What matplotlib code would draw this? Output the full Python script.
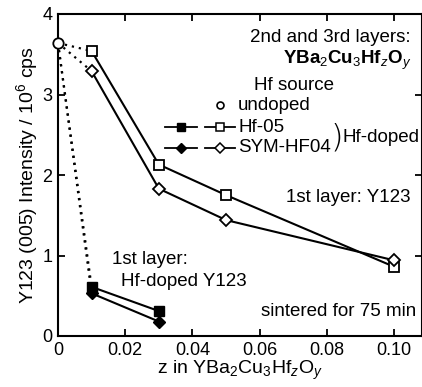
import matplotlib.pyplot as plt
from matplotlib.lines import Line2D

plt.rcParams["font.family"] = ["Liberation Sans", "DejaVu Sans"]
plt.rcParams["mathtext.fontset"] = "custom"
plt.rcParams["mathtext.rm"] = "Liberation Sans"
plt.rcParams["mathtext.it"] = "Liberation Sans:italic"
plt.rcParams["mathtext.bf"] = "Liberation Sans:bold"

# 2nd and 3rd layers (open markers)
z_upper = [0.01, 0.03, 0.05, 0.10]
hf05_upper = [3.54, 2.13, 1.75, 0.86]
sym_upper = [3.29, 1.83, 1.44, 0.94]

# 1st layer Hf-doped Y123 (filled markers)
z_first = [0.01, 0.03]
hf05_first = [0.61, 0.31]
sym_first = [0.53, 0.18]

# undoped reference
z_undoped = 0.0
undoped = 3.64

x_ticks = [0, 0.02, 0.04, 0.06, 0.08, 0.10]
x_labels = ["0", "0.02", "0.04", "0.06", "0.08", "0.10"]
y_ticks = [0, 1, 2, 3, 4]

fs = 13.5

fig = plt.figure(figsize=(4.22, 3.87), dpi=100)
ax = fig.add_axes([58 / 422, 1 - 336 / 387, 364 / 422, 322 / 387])

# dotted connections from the undoped point
for y0 in [hf05_upper[0], sym_upper[0], hf05_first[0], sym_first[0]]:
    ax.plot([z_undoped, z_upper[0]], [undoped, y0], color="black",
            linestyle=(0, (1, 2.2)), linewidth=1.6, zorder=2)

ms = 7.5
ax.plot(z_upper, hf05_upper, color="black", lw=1.5, marker="s", ms=ms,
        mfc="white", mec="black", mew=1.3, zorder=3)
ax.plot(z_upper, sym_upper, color="black", lw=1.5, marker="D", ms=ms - 1.5,
        mfc="white", mec="black", mew=1.3, zorder=3)
ax.plot(z_first, hf05_first, color="black", lw=1.5, marker="s", ms=ms,
        mfc="black", mec="black", zorder=3)
ax.plot(z_first, sym_first, color="black", lw=1.5, marker="D", ms=ms - 1.5,
        mfc="black", mec="black", zorder=3)
ax.plot([z_undoped], [undoped], marker="o", ms=ms, mfc="white", mec="black",
        mew=1.3, ls="none", zorder=4, clip_on=False)

ax.set_xlim(0, 0.1083)
ax.set_ylim(0, 4)
ax.set_xticks(x_ticks)
ax.set_xticklabels(x_labels)
ax.set_yticks(y_ticks)
ax.tick_params(direction="in", length=5, width=1.3, labelsize=13,
               top=True, right=True, pad=4)
for side in ax.spines.values():
    side.set_linewidth(1.5)

ax.set_xlabel(r"z in YBa$_2$Cu$_3$Hf$_\mathit{z}$O$_\mathit{y}$", fontsize=14,
              labelpad=0)
ax.set_ylabel(r"Y123 (005) Intensity / 10$^6$ cps", fontsize=14, labelpad=2)


def px(x, y):
    return ((x - 58) / 364, (336 - y) / 322)


T = ax.transAxes
ax.text(*px(411, 37), "2nd and 3rd layers:", transform=T, ha="right",
        va="center", fontsize=fs)
ax.text(*px(411, 60), r"YBa$_2$Cu$_3$Hf$_\mathit{z}$O$_\mathit{y}$",
        transform=T, ha="right", va="center", fontsize=fs,
        fontweight="bold")
ax.text(*px(254, 85), "Hf source", transform=T, ha="left", va="center",
        fontsize=fs)

# hand-built legend
rows = [("undoped", 105), ("Hf-05", 127), ("SYM-HF04", 148)]
for label, yy in rows:
    ax.text(*px(238, yy), label, transform=T, ha="left", va="center",
            fontsize=fs)
ax.add_line(Line2D([px(220, 105)[0]], [px(220, 105)[1]], transform=T,
                   marker="o", ms=5, mfc="white", mec="black", mew=1.2))
for yy, mk, size in [(127, "s", 6), (148, "D", 5)]:
    yf = px(0, yy)[1]
    ax.add_line(Line2D([px(165, 0)[0], px(197, 0)[0]], [yf, yf], transform=T,
                       color="black", lw=1.3))
    ax.add_line(Line2D([px(181, 0)[0]], [yf], transform=T, marker=mk, ms=size,
                       mfc="black", mec="black"))
    ax.add_line(Line2D([px(205, 0)[0], px(235, 0)[0]], [yf, yf], transform=T,
                       color="black", lw=1.3))
    ax.add_line(Line2D([px(220, 0)[0]], [yf], transform=T, marker=mk, ms=size,
                       mfc="white", mec="black", mew=1.1))
ax.text(*px(331, 138), ")", transform=T, ha="left", va="center",
        fontsize=23, family=["DejaVu Sans"], fontweight="light")
ax.text(*px(342, 138), "Hf-doped", transform=T, ha="left", va="center",
        fontsize=fs)

ax.text(*px(411, 198), "1st layer: Y123", transform=T, ha="right",
        va="center", fontsize=fs)
ax.text(*px(112, 259), "1st layer:", transform=T, ha="left", va="center",
        fontsize=fs)
ax.text(*px(121, 281), "Hf-doped Y123", transform=T, ha="left", va="center",
        fontsize=fs)
ax.text(*px(416, 311), "sintered for 75 min", transform=T, ha="right",
        va="center", fontsize=fs)

fig.savefig("out.png", dpi=100)
